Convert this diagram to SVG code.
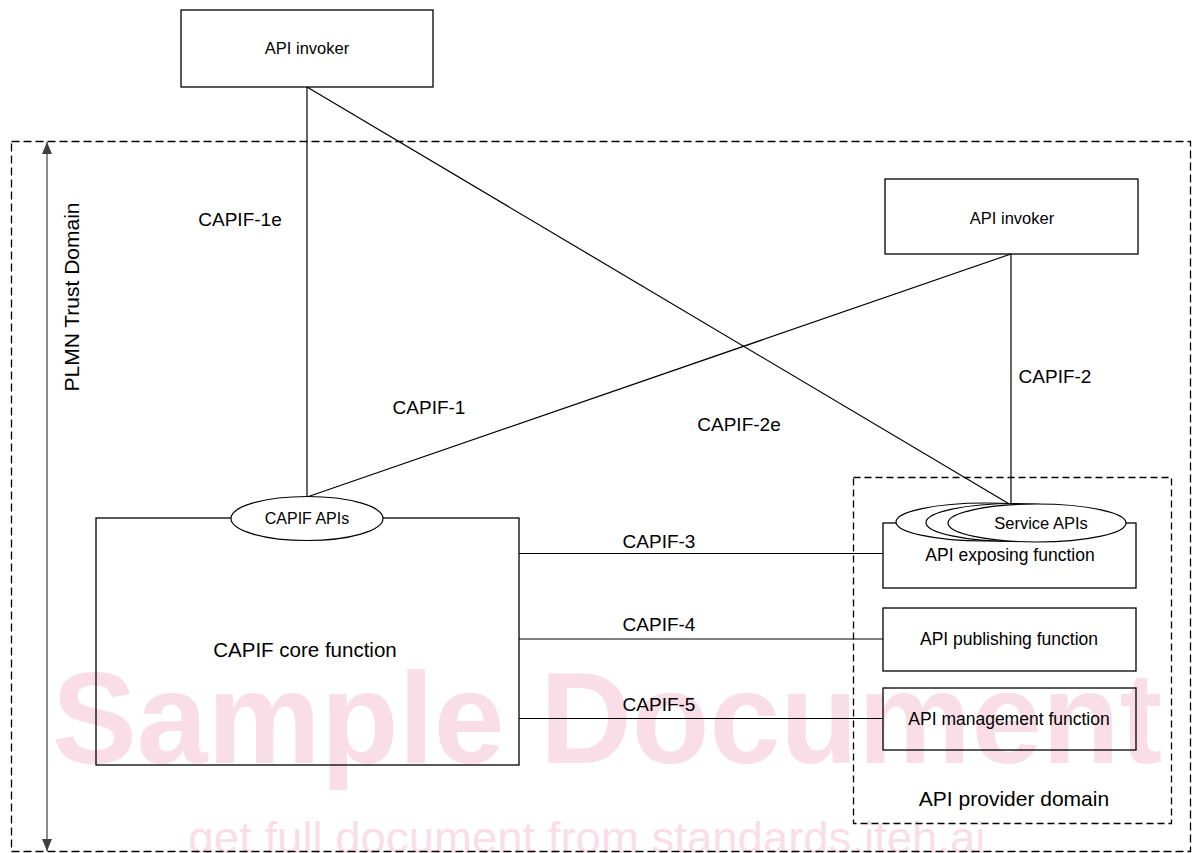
<svg xmlns="http://www.w3.org/2000/svg" width="1194" height="853" viewBox="0 0 1194 853">
<defs>
<style>
.bx{fill:none;stroke:#000;stroke-width:1.3}
.el{fill:#fff;stroke:#000;stroke-width:1.2}
.ln{fill:none;stroke:#000;stroke-width:1.2}
.dash{fill:none;stroke:#000;stroke-width:1.3;stroke-dasharray:8 4}
.t{font-family:"Liberation Sans",Arial,sans-serif;fill:#000;text-anchor:middle}
.wm{font-family:"Liberation Sans",Arial,sans-serif;fill:#f9dee7;text-anchor:middle}
</style>
<marker id="ah" viewBox="0 0 12 10" refX="12" refY="5" markerWidth="12" markerHeight="10" markerUnits="userSpaceOnUse" orient="auto-start-reverse">
<path d="M0,0 L12,5 L0,10 z" fill="#404040"/>
</marker>
</defs>
<rect width="1194" height="853" fill="#fff"/>
<g id="watermark">
<text class="wm" x="607" y="763" font-size="130" font-weight="bold" textLength="1110" lengthAdjust="spacingAndGlyphs">Sample Document</text>
<text class="wm" x="587" y="853" font-size="44" textLength="797" lengthAdjust="spacingAndGlyphs">get full document from standards.iteh.ai</text>
</g>
<g id="plmn-domain">
<rect class="dash" x="11.5" y="141.5" width="1179" height="710"/>
<line x1="47" y1="142" x2="47" y2="851" stroke="#404040" stroke-width="1.2" marker-start="url(#ah)" marker-end="url(#ah)"/>
<text class="t" transform="translate(79,297) rotate(-90)" font-size="21">PLMN Trust Domain</text>
</g>
<g id="provider-domain">
<rect class="dash" x="853.5" y="477.5" width="318" height="346" style="stroke-dasharray:7 4"/>
<text class="t" x="1014" y="806" font-size="21">API provider domain</text>
</g>
<g id="connectors">
<line class="ln" x1="307" y1="87" x2="307" y2="497"/>
<line class="ln" x1="307" y1="87" x2="1011" y2="505"/>
<line class="ln" x1="1011" y1="254" x2="307" y2="497"/>
<line class="ln" x1="1011" y1="254" x2="1011" y2="505"/>
<line class="ln" x1="519" y1="553.5" x2="883" y2="553.5"/>
<line class="ln" x1="519" y1="639" x2="883" y2="639"/>
<line class="ln" x1="519" y1="718.5" x2="883" y2="718.5"/>
<text class="t" x="240" y="226" font-size="19">CAPIF-1e</text>
<text class="t" x="429" y="414" font-size="19">CAPIF-1</text>
<text class="t" x="739" y="431" font-size="19">CAPIF-2e</text>
<text class="t" x="1055" y="383" font-size="19">CAPIF-2</text>
<text class="t" x="659" y="548" font-size="19">CAPIF-3</text>
<text class="t" x="659" y="631" font-size="19">CAPIF-4</text>
<text class="t" x="659" y="711" font-size="19">CAPIF-5</text>
</g>
<g id="api-invoker-1">
<rect class="bx" x="181" y="10" width="252" height="77"/>
<text class="t" x="307" y="54" font-size="16.5">API invoker</text>
</g>
<g id="api-invoker-2">
<rect class="bx" x="885" y="179" width="253" height="75"/>
<text class="t" x="1012" y="224" font-size="16.5">API invoker</text>
</g>
<g id="capif-core">
<rect class="bx" x="96" y="518" width="423" height="247"/>
<text class="t" x="305" y="657" font-size="20.5">CAPIF core function</text>
</g>
<g id="capif-apis">
<ellipse class="el" cx="307" cy="518.5" rx="76" ry="22"/>
<text class="t" x="307" y="524" font-size="16">CAPIF APIs</text>
</g>
<g id="api-exposing">
<rect class="bx" x="883" y="523" width="253" height="65"/>
<text class="t" x="1010" y="561" font-size="17.5">API exposing function</text>
</g>
<g id="service-apis">
<ellipse class="el" cx="985" cy="522" rx="89" ry="19"/>
<ellipse class="el" cx="1015" cy="522.5" rx="89" ry="19"/>
<ellipse class="el" cx="1037" cy="523" rx="89" ry="19"/>
<text class="t" x="1041" y="529" font-size="16.5">Service APIs</text>
</g>
<g id="api-publishing">
<rect class="bx" x="883" y="608" width="253" height="63"/>
<text class="t" x="1009" y="645" font-size="17.5">API publishing function</text>
</g>
<g id="api-management">
<rect class="bx" x="883" y="688" width="253" height="62"/>
<text class="t" x="1009" y="725" font-size="17.5">API management function</text>
</g>
</svg>
